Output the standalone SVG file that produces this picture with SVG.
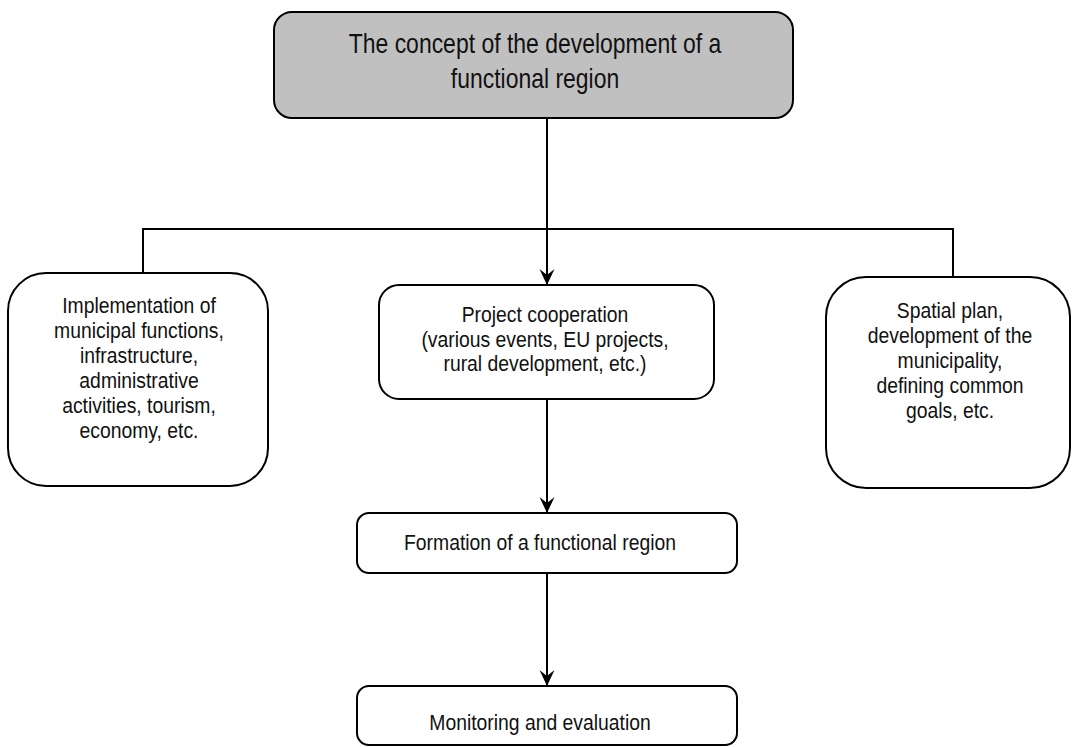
<svg xmlns="http://www.w3.org/2000/svg" width="1072" height="747" viewBox="0 0 1072 747">
<style>
  .box{fill:#fff;stroke:#000;stroke-width:2}
  .top{fill:#c0c0c0;stroke:#000;stroke-width:2}
  .t{font-family:"Liberation Sans",Arial,sans-serif;font-size:21.5px;fill:#111;text-anchor:middle}
  .tb{font-family:"Liberation Sans",Arial,sans-serif;font-size:28px;fill:#111;text-anchor:middle}
  .ln{fill:none;stroke:#000;stroke-width:2}
</style>
<defs>
  <marker id="arr" markerUnits="userSpaceOnUse" viewBox="-17 -9 18 18" markerWidth="18" markerHeight="18" refX="0" refY="0" orient="auto">
    <path d="M0,0 L-16,-7.5 L-10,0 L-16,7.5 Z" fill="#000"/>
  </marker>
</defs>
<rect width="1072" height="747" fill="#fff"/>
<g id="connectors">
  <line class="ln" x1="547" y1="118" x2="547" y2="285" marker-end="url(#arr)"/>
  <polyline class="ln" points="143,273 143,229 953,229 953,277"/>
  <line class="ln" x1="547" y1="399" x2="547" y2="513" marker-end="url(#arr)"/>
  <line class="ln" x1="547" y1="573" x2="547" y2="686" marker-end="url(#arr)"/>
</g>
<g id="concept">
  <rect class="top" x="274" y="12" width="519" height="106" rx="18"/>
  <g transform="translate(535,0) scale(0.82,1)">
    <text class="tb" x="0" y="53">The concept of the development of a</text>
    <text class="tb" x="0" y="88">functional region</text>
  </g>
</g>
<g id="implementation">
  <rect class="box" x="8" y="273" width="260" height="213" rx="38"/>
  <g transform="translate(139,0) scale(0.9,1)">
    <text class="t" x="0" y="313">Implementation of</text>
    <text class="t" x="0" y="338">municipal functions,</text>
    <text class="t" x="0" y="363">infrastructure,</text>
    <text class="t" x="0" y="388">administrative</text>
    <text class="t" x="0" y="413">activities, tourism,</text>
    <text class="t" x="0" y="438">economy, etc.</text>
  </g>
</g>
<g id="project">
  <rect class="box" x="379" y="285" width="335" height="114" rx="20"/>
  <g transform="translate(545,0) scale(0.9,1)">
    <text class="t" x="0" y="322">Project cooperation</text>
    <text class="t" x="0" y="347">(various events, EU projects,</text>
    <text class="t" x="0" y="371">rural development, etc.)</text>
  </g>
</g>
<g id="spatial">
  <rect class="box" x="826" y="277" width="244" height="211" rx="40"/>
  <g transform="translate(950,0) scale(0.9,1)">
    <text class="t" x="0" y="318">Spatial plan,</text>
    <text class="t" x="0" y="343">development of the</text>
    <text class="t" x="0" y="368">municipality,</text>
    <text class="t" x="0" y="393">defining common</text>
    <text class="t" x="0" y="418">goals, etc.</text>
  </g>
</g>
<g id="formation">
  <rect class="box" x="357" y="513" width="380" height="60" rx="12"/>
  <g transform="translate(540,0) scale(0.9,1)">
    <text class="t" x="0" y="550">Formation of a functional region</text>
  </g>
</g>
<g id="monitoring">
  <rect class="box" x="357" y="686" width="380" height="59" rx="12"/>
  <g transform="translate(540,0) scale(0.9,1)">
    <text class="t" x="0" y="730">Monitoring and evaluation</text>
  </g>
</g>
</svg>
